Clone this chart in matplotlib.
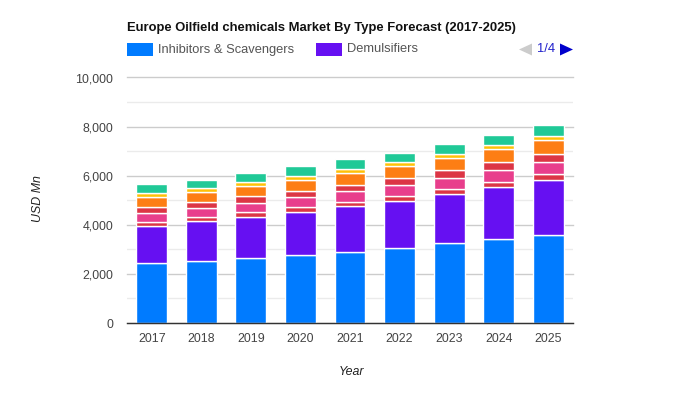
import numpy as np
import matplotlib
matplotlib.use("Agg")
import matplotlib.pyplot as plt
from matplotlib.patches import Rectangle, Polygon

plt.rcParams['font.family'] = ['Liberation Sans', 'DejaVu Sans']

years = ['2017', '2018', '2019', '2020', '2021', '2022', '2023', '2024', '2025']

# segment sizes in USD Mn, bottom to top
inhibitors = [2430, 2520, 2640, 2770, 2890, 3050, 3240, 3430, 3580]
demulsifiers = [1540, 1630, 1675, 1750, 1870, 1915, 2010, 2105, 2240]
seg_red = [140, 180, 205, 200, 165, 205, 205, 205, 245]
seg_pink = [370, 350, 365, 410, 445, 450, 445, 485, 485]
seg_crimson = [240, 245, 285, 240, 250, 280, 325, 325, 330]
seg_orange = [410, 405, 405, 450, 485, 490, 490, 530, 570]
seg_yellow = [160, 165, 165, 175, 165, 160, 175, 165, 170]
seg_green = [355, 350, 350, 380, 390, 395, 420, 430, 465]

series = [inhibitors, demulsifiers, seg_red, seg_pink, seg_crimson, seg_orange, seg_yellow, seg_green]
colors = ['#007bff', '#6610f2', '#dc3545', '#e83e8c', '#dc3545', '#fd7e14', '#ffc107', '#20c997']

W, H = 700, 400
fig = plt.figure(figsize=(7, 4), dpi=100)
ax = fig.add_axes([127/W, 1 - 323/H, 446/W, 245.5/H])

x = np.arange(len(years))
bottom = np.zeros(len(years))
for vals, c in zip(series, colors):
    ax.bar(x, vals, width=0.625, bottom=bottom, color=c, edgecolor='white', linewidth=1, zorder=3)
    bottom += np.array(vals)

ax.set_xlim(-0.5, 8.5)
ax.set_ylim(0, 10000)

# gridlines
ax.set_yticks(range(0, 10001, 2000))
ax.set_yticklabels(['0', '2,000', '4,000', '6,000', '8,000', '10,000'])
ax.set_yticks(range(1000, 10000, 2000), minor=True)
ax.grid(axis='y', which='major', color='#cccccc', linewidth=1, zorder=0)
ax.grid(axis='y', which='minor', color='#ebebeb', linewidth=1, zorder=0)
for line in ax.get_ygridlines():
    line.set_clip_on(False)
ax.set_xticks(x)
ax.set_xticklabels(years)
ax.tick_params(axis='both', which='both', length=0, labelsize=8.9, labelcolor='#444444')
ax.tick_params(axis='x', pad=7)
ax.tick_params(axis='y', pad=10)

for s in ['top', 'left', 'right']:
    ax.spines[s].set_visible(False)
ax.spines['bottom'].set_color('#333333')
ax.spines['bottom'].set_linewidth(1)
ax.spines['bottom'].set_zorder(5)

fig.text(38/W, 1 - 199/H, 'USD Mn', rotation=90, fontsize=8.9, style='italic', color='#222222', ha='center', va='center')
fig.text(351/W, 1 - 372/H, 'Year', fontsize=8.9, style='italic', color='#222222', ha='center', va='center')

fig.text(127/W, 1 - 28.5/H, 'Europe Oilfield chemicals Market By Type Forecast (2017-2025)',
         fontsize=9.4, fontweight='bold', color='#111111', ha='left', va='center')

# legend row
fig.add_artist(Rectangle((127/W, 1 - 56/H), 26/W, 13/H, color=colors[0], linewidth=0, transform=fig.transFigure))
fig.text(158/W, 1 - 49.5/H, 'Inhibitors & Scavengers', fontsize=9.3, color='#555555', ha='left', va='center')
fig.add_artist(Rectangle((316/W, 1 - 56/H), 26/W, 13/H, color=colors[1], linewidth=0, transform=fig.transFigure))
fig.text(347/W, 1 - 49.5/H, 'Demulsifiers', fontsize=9.3, color='#555555', ha='left', va='center')

# pager
fig.add_artist(Polygon([(519/W, 1 - 49.5/H), (532/W, 1 - 43.5/H), (532/W, 1 - 55.5/H)], color='#cccccc', linewidth=0, transform=fig.transFigure))
fig.text(546/W, 1 - 49.5/H, '1/4', fontsize=9.3, color='#2222cc', ha='center', va='center')
fig.add_artist(Polygon([(573/W, 1 - 49.5/H), (560/W, 1 - 43.5/H), (560/W, 1 - 55.5/H)], color='#0000cc', linewidth=0, transform=fig.transFigure))

fig.savefig('out.png', dpi=100)
